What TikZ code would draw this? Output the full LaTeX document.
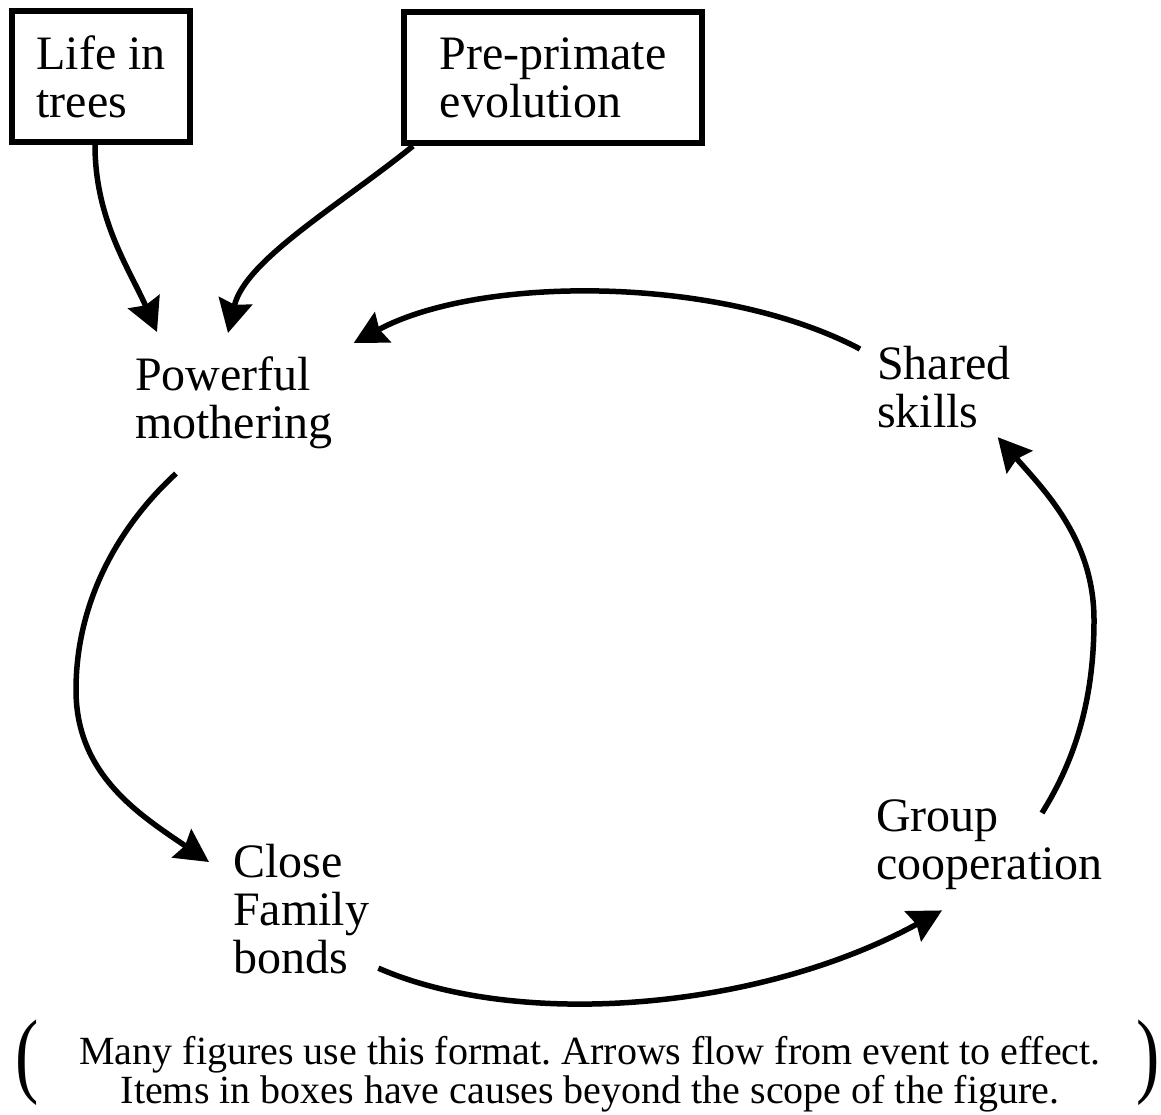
\documentclass[tikz,border=0pt]{standalone}
\usepackage{fontspec}
\setmainfont{Liberation Serif}
\usepackage{graphicx}
\usetikzlibrary{arrows.meta}
\frenchspacing
\tikzset{
  box/.style={draw, line width=6pt, align=left, minimum height=131pt, font=\fontsize{48}{48}\selectfont},
  lbl/.style={anchor=north west, align=left, inner sep=0pt, font=\fontsize{48}{48}\selectfont},
  paren/.style={anchor=north west, inner sep=0pt},
  arr/.style={line width=5.5pt, -{Stealth[length=33pt,width=34pt,inset=4pt]}}
}
\begin{document}
\begin{tikzpicture}[x=1pt,y=-1pt]
\useasboundingbox (0,0) rectangle (1161,1114);
\node[box, minimum width=178pt] (life) at (101,76.5) {Life in\\trees};
\node[box, minimum width=298pt] (prim) at (553,77.5) {Pre-primate\\evolution};
\node[lbl] (moth) at (135,356) {Powerful\\mothering};
\node[lbl] (skill) at (877,346) {Shared\\skills};
\node[lbl] (coop) at (876,800) {Group\\cooperation};
\node[lbl] (bond) at (233,844) {Close\\Family\\bonds};
\node[anchor=north, align=center, inner sep=0pt, font=\fontsize{40}{39}\selectfont] (note) at (590,1036)
  {Many figures use this format. Arrows flow from event to effect.\\Items in boxes have causes beyond the scope of the figure.};
\node[paren] (lpar) at (15,1020) {\scalebox{1}[1.35]{\fontsize{70}{70}\selectfont(}};
\node[paren] (rpar) at (1136,1020) {\scalebox{1}[1.35]{\fontsize{70}{70}\selectfont)}};
\draw[arr] ([xshift=-6pt]life.south) .. controls (95,220) and (130,270) .. ([shift={(22,-24)}]moth.north west);
\draw[arr] ([xshift=12pt]prim.south west) .. controls (340,205) and (245,260) .. ([shift={(93,-23)}]moth.north west);
\draw[arr] ([shift={(-17,3)}]skill.north west) .. controls (720,275) and (480,275) .. ([shift={(21,-13)}]moth.north east);
\draw[arr] ([shift={(41,25)}]moth.south west) .. controls (120,525) and (76,600) .. (76,690)
  .. controls (76,775) and (140,815) .. ([shift={(-24,18)}]bond.north west);
\draw[arr] ([shift={(9,-6)}]bond.south east) .. controls (520,1030) and (760,1010) .. ([shift={(66,20)}]coop.south west);
\draw[arr] ([shift={(-61,13)}]coop.north east) .. controls (1075,760) and (1094,700) .. (1094,620)
  .. controls (1094,540) and (1045,491) .. ([shift={(-13,9)}]skill.south east);
\end{tikzpicture}
\end{document}
